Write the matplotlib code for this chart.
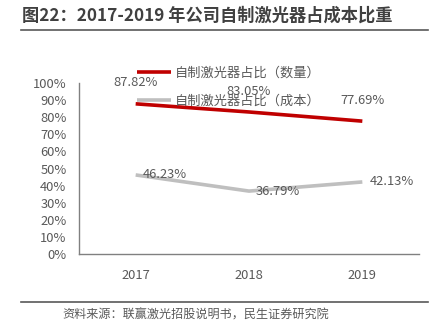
import matplotlib
matplotlib.use('Agg')
import matplotlib.pyplot as plt
import matplotlib.ticker as ticker
from matplotlib.lines import Line2D

plt.rcParams['font.family'] = ['Noto Sans CJK SC', 'DejaVu Sans']

years = ['2017', '2018', '2019']
share_qty = [87.82, 83.05, 77.69]
share_cost = [46.23, 36.79, 42.13]
label_qty = '自制激光器占比（数量）'
label_cost = '自制激光器占比（成本）'
title = '图22：2017-2019 年公司自制激光器占成本比重'
source = '资料来源：联赢激光招股说明书，民生证券研究院'

TXT = '#595959'
RED = '#C00000'
GRAY = '#BFBFBF'

fig = plt.figure(figsize=(4.39, 3.28), dpi=100)
ax = fig.add_axes([79/439, 1 - 254/328, 340/439, 171/328])

x = range(len(years))
ax.plot(x, share_qty, color=RED, linewidth=2.6, solid_capstyle='butt', label=label_qty)
ax.plot(x, share_cost, color=GRAY, linewidth=2.6, solid_capstyle='butt', label=label_cost)

for i, v in enumerate(share_qty):
    ax.annotate(f'{v:.2f}%', (i, v), xytext=(0, 15), textcoords='offset points',
                ha='center', va='center', fontsize=9.3, color=TXT)
for i, v in enumerate(share_cost):
    ax.annotate(f'{v:.2f}%', (i, v), xytext=(5, 0), textcoords='offset points',
                ha='left', va='center', fontsize=9.3, color=TXT)

ax.set_xlim(-0.5, 2.5)
ax.set_ylim(0, 100)
ax.set_xticks(list(x))
ax.set_xticklabels(years)
ax.set_yticks(range(0, 101, 10))
ax.yaxis.set_major_formatter(ticker.FuncFormatter(lambda v, p: f'{int(v)}%'))
ax.tick_params(axis='both', length=0, labelsize=9.3, colors=TXT)
ax.tick_params(axis='x', pad=11)
ax.tick_params(axis='y', pad=9)
for s in ['top', 'right']:
    ax.spines[s].set_visible(False)
for s in ['left', 'bottom']:
    ax.spines[s].set_color('#808080')
    ax.spines[s].set_linewidth(1.0)

leg = ax.legend(loc='upper left', bbox_to_anchor=(137/439, 1 - 67/328),
                bbox_transform=fig.transFigure, frameon=False, fontsize=9.5,
                handlelength=2.6, handletextpad=0.25, labelspacing=1.1,
                borderpad=0, borderaxespad=0)
for t in leg.get_texts():
    t.set_color(TXT)

fig.text(22/439, 1 - 16/328, title, fontsize=12.4, fontweight='bold', color='#404040',
         ha='left', va='center')
fig.add_artist(Line2D([21/439, 428/439], [1 - 30/328, 1 - 30/328],
                      transform=fig.transFigure, color='#595959', linewidth=1.2))
fig.add_artist(Line2D([21/439, 428/439], [1 - 302/328, 1 - 302/328],
                      transform=fig.transFigure, color='#595959', linewidth=1.2))
fig.text(62/439, 1 - 315/328, source, fontsize=8.7, color=TXT, ha='left', va='center')

fig.savefig('out.png', dpi=100)
